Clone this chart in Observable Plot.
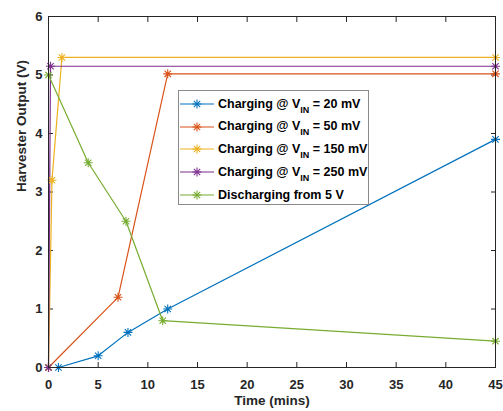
<!DOCTYPE html>
<html>
<head>
<meta charset="utf-8">
<script src="https://cdn.jsdelivr.net/npm/d3@7"></script>
<script src="https://cdn.jsdelivr.net/npm/@observablehq/plot@0.6"></script>
<style>
  html, body { margin: 0; padding: 0; background: #fff; }
  #wrap { position: relative; width: 503px; height: 411px; font-family: "Liberation Sans", Arial, sans-serif; }
  #legend { position: absolute; left: 178px; top: 90px; width: 191px; height: 115px; background: #fff; border: 1px solid #8a8a8a; box-sizing: border-box; }
  .row { position: absolute; left: 0; height: 20px; display: flex; align-items: center; }
  .row svg { display: block; }
  .lab { font-weight: bold; font-size: 12.5px; color: #000; margin-left: 3px; white-space: nowrap; line-height: 1; }
  .lab sub { font-size: 9px; vertical-align: -5px; line-height: 0; }
</style>
</head>
<body>
<div id="wrap"><div id="legend"></div></div>
<script>
// ---- data ----
const t20  = [0, 1, 5, 8, 12, 45];
const v20  = [0, 0, 0.2, 0.6, 1.0, 3.9];
const t50  = [0, 7, 12, 45];
const v50  = [0, 1.2, 5.02, 5.02];
const t150 = [0, 0.35, 1.35, 45];
const v150 = [0, 3.2, 5.3, 5.3];
const t250 = [0, 0.2, 45];
const v250 = [0, 5.15, 5.15];
const tDis = [0, 4, 7.8, 11.5, 45];
const vDis = [5.0, 3.5, 2.5, 0.8, 0.45];
const seriesNames = ["20 mV", "50 mV", "150 mV", "250 mV", "Discharging from 5 V"];
const colors = ["#0072BD", "#D95319", "#EDB120", "#7E2F8E", "#77AC30"];
const xTicks = [0, 5, 10, 15, 20, 25, 30, 35, 40, 45];
const yTicks = [0, 1, 2, 3, 4, 5, 6];

const seriesT = [t20, t50, t150, t250, tDis];
const seriesV = [v20, v50, v150, v250, vDis];
const rows = [];
seriesT.forEach((ts, i) => ts.forEach((t, j) => rows.push({s: seriesNames[i], t, v: seriesV[i][j]})));

const asterisk = {
  draw(ctx, size) {
    const r = Math.sqrt(size / Math.PI);
    const d = r * Math.SQRT1_2;
    ctx.moveTo(-r, 0); ctx.lineTo(r, 0);
    ctx.moveTo(0, -r); ctx.lineTo(0, r);
    ctx.moveTo(-d, -d); ctx.lineTo(d, d);
    ctx.moveTo(-d, d); ctx.lineTo(d, -d);
  }
};

const axisColor = "#262626";
const fmt = d => String(d);
const chart = Plot.plot({
  width: 503, height: 411,
  marginLeft: 48, marginRight: 8, marginTop: 16, marginBottom: 44,
  style: {fontFamily: "'Liberation Sans', Arial, sans-serif", fontSize: "13px", fontWeight: "bold", color: axisColor, background: "#fff"},
  x: {domain: [0, 45]},
  y: {domain: [0, 6]},
  color: {domain: seriesNames, range: colors},
  marks: [
    Plot.axisX({ticks: xTicks, tickSize: 0, tickPadding: 12, tickFormat: fmt, label: null, fontSize: 13, fontWeight: "bold"}),
    Plot.axisX({ticks: xTicks, tickSize: -5, tickFormat: () => "", label: null}),
    Plot.axisX({anchor: "top", ticks: xTicks, tickSize: -5, tickFormat: () => "", label: null}),
    Plot.axisY({ticks: yTicks, tickSize: 0, tickPadding: 6, tickFormat: fmt, label: null, fontSize: 13, fontWeight: "bold"}),
    Plot.axisY({ticks: yTicks, tickSize: -5, tickFormat: () => "", label: null}),
    Plot.axisY({anchor: "right", ticks: yTicks, tickSize: -5, tickFormat: () => "", label: null}),
    Plot.line(rows, {x: "t", y: "v", z: "s", stroke: "s", strokeWidth: 1.2}),
    Plot.dot(rows, {x: "t", y: "v", stroke: "s", symbol: asterisk, r: 4.5, strokeWidth: 1.1}),
    Plot.frame({stroke: axisColor, strokeWidth: 1}),
    Plot.text(["Time (mins)"], {frameAnchor: "bottom", dy: 37, text: d => d, fontSize: 13.5, fontWeight: "bold", fill: axisColor}),
    Plot.text(["Harvester Output (V)"], {frameAnchor: "left", dx: -27, rotate: -90, text: d => d, fontSize: 13.5, fontWeight: "bold", fill: axisColor})
  ]
});
document.getElementById("wrap").prepend(chart);

// ---- legend ----
const legendLabels = [
  'Charging @ V<sub>IN</sub> = 20 mV',
  'Charging @ V<sub>IN</sub> = 50 mV',
  'Charging @ V<sub>IN</sub> = 150 mV',
  'Charging @ V<sub>IN</sub> = 250 mV',
  'Discharging from 5 V'
];
const legend = document.getElementById("legend");
legendLabels.forEach((lab, i) => {
  const row = document.createElement("div");
  row.className = "row";
  row.style.top = (3 + i * 22.7) + "px";
  const c = colors[i];
  row.innerHTML = `<svg width="36" height="20"><line x1="1" y1="10" x2="35" y2="10" stroke="${c}" stroke-width="1.2"/>` +
    `<g stroke="${c}" stroke-width="1.1" transform="translate(18,10)"><line x1="-4.5" y1="0" x2="4.5" y2="0"/><line x1="0" y1="-4.5" x2="0" y2="4.5"/><line x1="-3.2" y1="-3.2" x2="3.2" y2="3.2"/><line x1="-3.2" y1="3.2" x2="3.2" y2="-3.2"/></g></svg>` +
    `<span class="lab">${lab}</span>`;
  legend.appendChild(row);
});
</script>
</body>
</html>
